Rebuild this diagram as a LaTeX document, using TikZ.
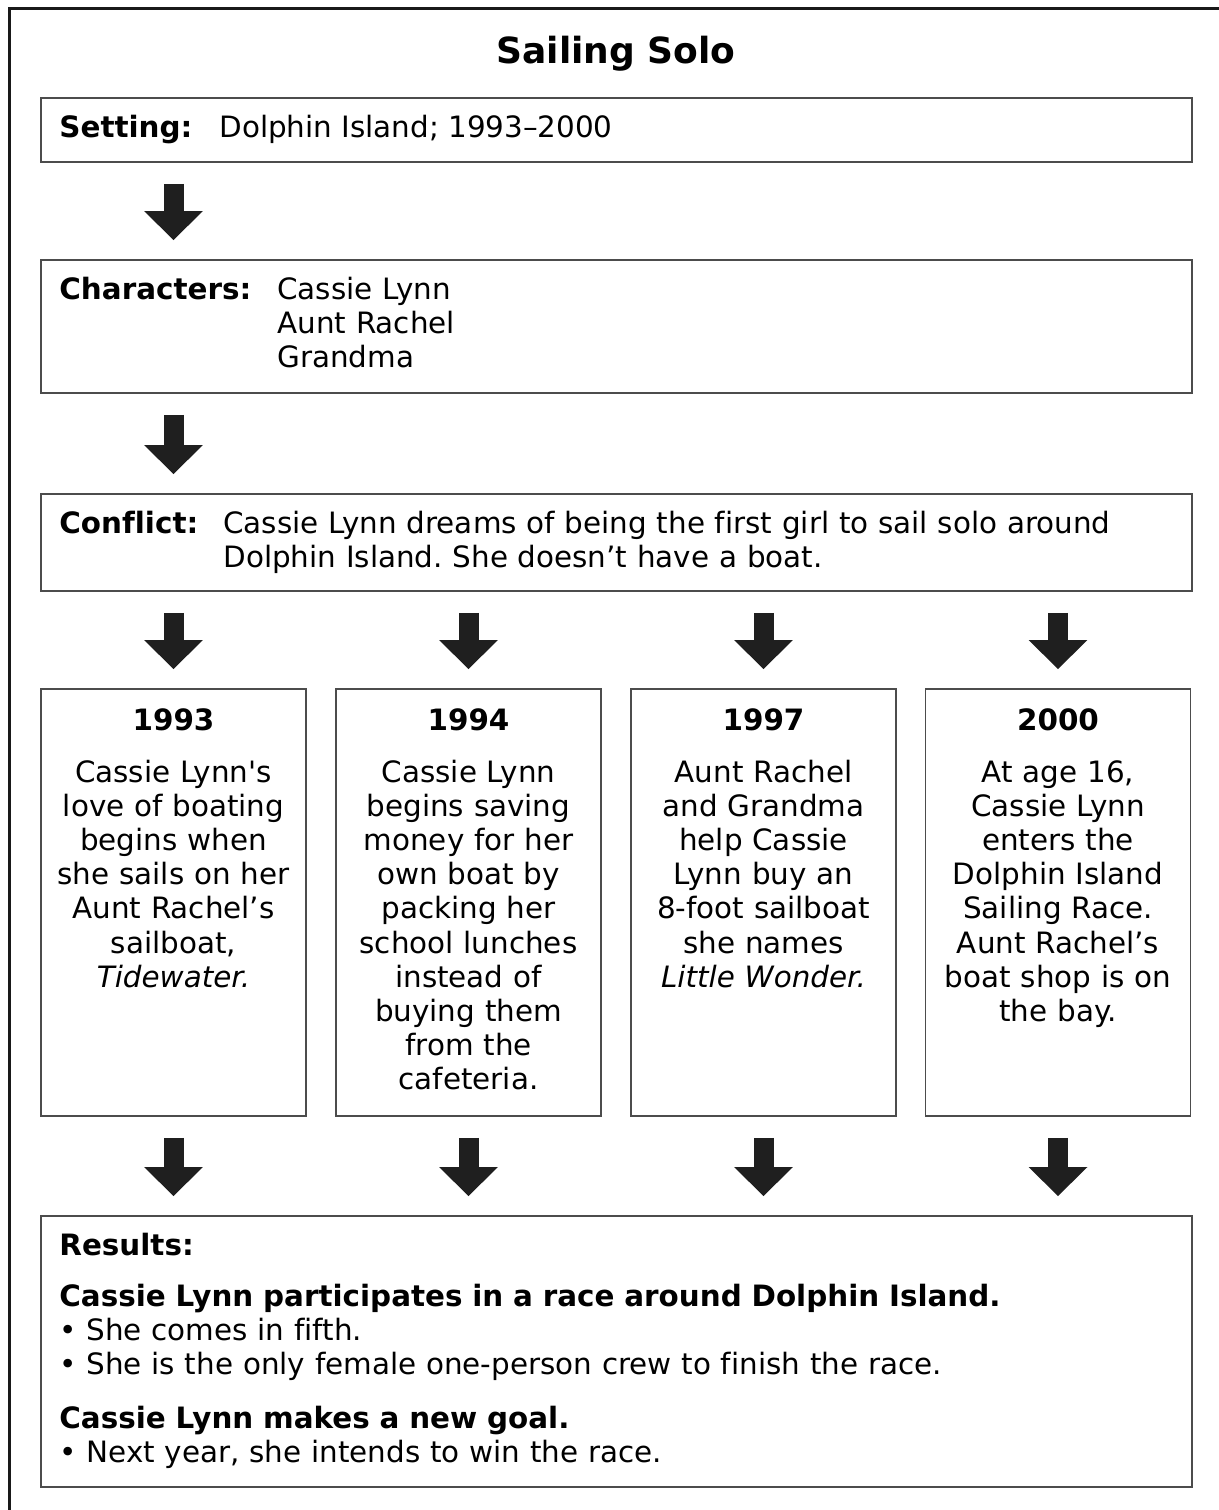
\documentclass[tikz,border=0pt]{standalone}
\usepackage{fontspec}
\setmainfont{DejaVu Sans}[Ligatures={TeXOff,NoCommon}]
\usetikzlibrary{arrows.meta}
\frenchspacing

\tikzset{
    box/.style={draw=black!70, line width=0.9pt, minimum width=575.5pt, inner sep=0pt},
    yearbox/.style={box, minimum width=132.5pt, minimum height=213.5pt},
    txt/.style={inner sep=0pt, font=\fontsize{14.7}{17.1}\selectfont},
    bigarrow/.style={line width=10pt, color=black!88, -{Triangle[width=28.5pt,length=14.5pt]}, shorten <=10.5pt, shorten >=9.5pt}
}

\begin{document}
\begin{tikzpicture}[x=0.5pt, y=-0.5pt]
                \useasboundingbox (0,0) rectangle (1219,1510);
                \draw[line width=1.5pt, black!90] (1219,8) -- (9,8) -- (9,1510);

                \node[txt, anchor=base, font=\fontsize{18}{21}\selectfont\bfseries] (title) at (616,63) {Sailing Solo};

                % boxes
                \node[box, minimum height=32pt] (setting) at (616.5,130) {};
                \node[box, minimum height=66.5pt] (chars) at (616.5,326.5) {};
                \node[box, minimum height=48.5pt] (conflict) at (616.5,542.5) {};
                \node[yearbox] (y93) at (173.5,902.5) {};
                \node[yearbox] (y94) at (468.5,902.5) {};
                \node[yearbox] (y97) at (763.5,902.5) {};
                \node[yearbox] (y00) at (1058,902.5) {};
                \node[box, minimum height=135.5pt] (results) at (616.5,1351.5) {};

                % texts
                \node[txt, anchor=base west] (setlabel) at (59,137) {\textbf{Setting:}};
                \node[txt, anchor=base west] (settext) at (219,137) {Dolphin Island; 1993–2000};
                \node[txt, anchor=base west] (charlabel) at (59,299) {\textbf{Characters:}};
                \node[txt, anchor=base west, text width=150pt, align=left] (chartext) at (277,299) {Cassie Lynn\\Aunt Rachel\\Grandma};
                \node[txt, anchor=base west] (conflabel) at (59,533) {\textbf{Conflict:}};
                \node[txt, anchor=base west, text width=470pt, align=left] (conftext) at (223,533) {Cassie Lynn dreams of being the first girl to sail solo around\\Dolphin Island. She doesn’t have a boat.};

                \node[txt, anchor=base, font=\fontsize{14.7}{17.1}\selectfont\bfseries] (t93) at (173.5,730) {1993};
                \node[txt, anchor=base, font=\fontsize{14.7}{17.1}\selectfont\bfseries] (t94) at (468.5,730) {1994};
                \node[txt, anchor=base, font=\fontsize{14.7}{17.1}\selectfont\bfseries] (t97) at (763.5,730) {1997};
                \node[txt, anchor=base, font=\fontsize{14.7}{17.1}\selectfont\bfseries] (t00) at (1058,730) {2000};
                \node[txt, anchor=base, text width=128pt, align=center] (s93) at (173.5,782) {Cassie Lynn's\\love of boating\\begins when\\she sails on her\\Aunt Rachel’s\\sailboat,\\\textit{Tidewater.}};
                \node[txt, anchor=base, text width=128pt, align=center] (s94) at (468.5,782) {Cassie Lynn\\begins saving\\money for her\\own boat by\\packing her\\school lunches\\instead of\\buying them\\from the\\cafeteria.};
                \node[txt, anchor=base, text width=128pt, align=center] (s97) at (763.5,782) {Aunt Rachel\\and Grandma\\help Cassie\\Lynn buy an\\8-foot sailboat\\she names\\\textit{Little Wonder.}};
                \node[txt, anchor=base, text width=128pt, align=center] (s00) at (1058,782) {At age 16,\\Cassie Lynn\\enters the\\Dolphin Island\\Sailing Race.\\Aunt Rachel’s\\boat shop is on\\the bay.};

                \node[txt, anchor=base west] (reslabel) at (59,1255) {\textbf{Results:}};
                \node[txt, anchor=base west, text width=560pt, align=left] (resa) at (59,1306) {\textbf{Cassie Lynn participates in a race around Dolphin Island.}\\• She comes in fifth.\\• She is the only female one-person crew to finish the race.};
                \node[txt, anchor=base west, text width=560pt, align=left] (resb) at (59,1428) {\textbf{Cassie Lynn makes a new goal.}\\• Next year, she intends to win the race.};

                % arrows
                \draw[bigarrow] (setting.south -| y93) -- (chars.north -| y93);
                \draw[bigarrow] (chars.south -| y93) -- (conflict.north -| y93);
                \draw[bigarrow] (conflict.south -| y93) -- (y93);
                \draw[bigarrow] (conflict.south -| y94) -- (y94);
                \draw[bigarrow] (conflict.south -| y97) -- (y97);
                \draw[bigarrow] (conflict.south -| y00) -- (y00);
                \draw[bigarrow] (y93) -- (results.north -| y93);
                \draw[bigarrow] (y94) -- (results.north -| y94);
                \draw[bigarrow] (y97) -- (results.north -| y97);
                \draw[bigarrow] (y00) -- (results.north -| y00);
\end{tikzpicture}
\end{document}
